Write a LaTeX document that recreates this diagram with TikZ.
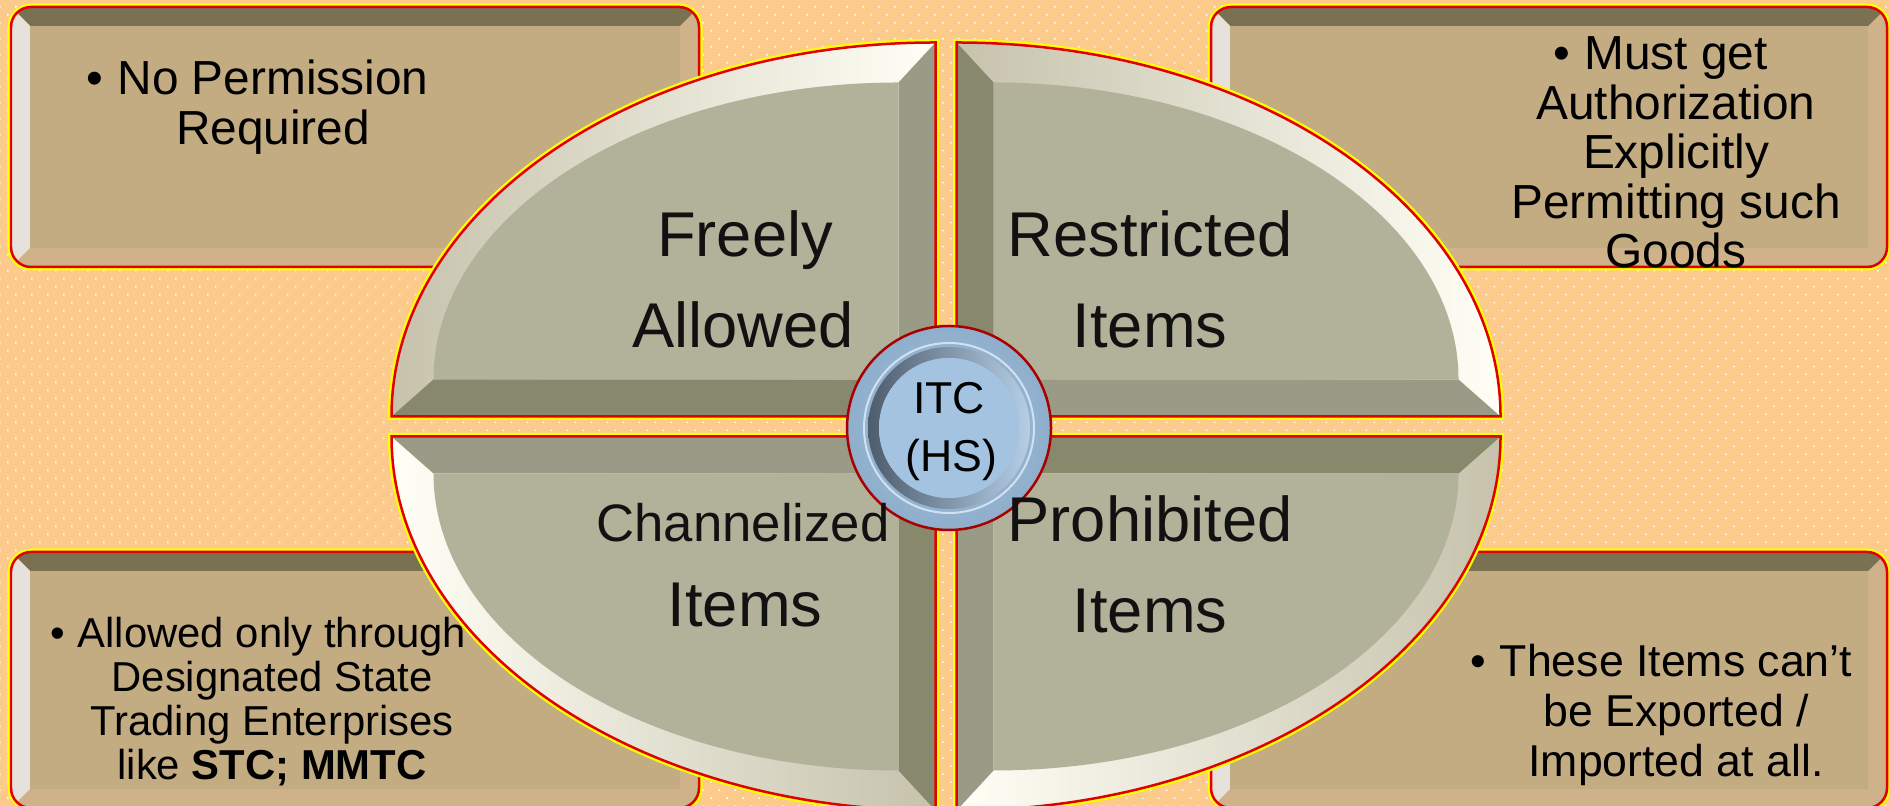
\documentclass[tikz,border=0pt]{standalone}
\usepackage{fontspec}
\setmainfont{Liberation Sans}
\usetikzlibrary{patterns.meta}

\definecolor{fondo}{HTML}{FCCA8A}
\definecolor{amarillo}{HTML}{FFFF00}
\definecolor{rojo}{HTML}{E00000}
\definecolor{cajacara}{HTML}{C4AC82}
\definecolor{cajaclara}{HTML}{CFB289}
\definecolor{cajaosc}{HTML}{7A7152}
\definecolor{cajablanca}{HTML}{E6E2DB}
\definecolor{cara}{HTML}{B2B29B}
\definecolor{bandamedia}{HTML}{9A9B86}
\definecolor{bandaosc}{HTML}{88886C}
\definecolor{arcogris}{HTML}{C6C2AC}
\definecolor{arcoblanco}{HTML}{FFFFF6}
\definecolor{azul}{HTML}{A3C3E0}
\definecolor{azulborde}{HTML}{8FAECB}
\definecolor{azulosc}{HTML}{4E5C6C}
\definecolor{tinta}{HTML}{111111}

\tikzset{
  borde/.style={amarillo, line width=0.07cm},
  filo/.style={rojo, line width=0.025cm},
  grande/.style={anchor=base, inner sep=0pt, text=tinta, font=\fontsize{18}{20}\selectfont},
  caja/.style={anchor=base, inner sep=0pt, text=black, font=\fontsize{13.6}{15}\selectfont},
}

\begin{document}
\begin{tikzpicture}
  \useasboundingbox (0,0) rectangle (18.89,8.06);
  \clip (0,0) rectangle (18.89,8.06);

  % Fondo punteado
  \fill[fondo] (0,0) rectangle (18.89,8.06);
  \fill[pattern={Dots[angle=45, distance=0.113cm, radius=0.3pt]}, pattern color=white] (0,0) rectangle (18.89,8.06);

  % Cajas de las esquinas
  \foreach \xa/\ya/\xb/\yb in {0.11/5.39/6.99/7.99, 12.11/5.39/18.87/7.99, 0.11/-0.02/6.99/2.54, 12.11/-0.02/18.87/2.54} {
    \draw[borde, rounded corners=0.2cm] (\xa,\ya) rectangle (\xb,\yb);
    \begin{scope}
      \clip[rounded corners=0.2cm] (\xa,\ya) rectangle (\xb,\yb);
      \fill[cajaclara] (\xa,\ya) rectangle (\xb,\yb);
      \fill[cajaosc] (\xa,\yb) -- (\xb,\yb) -- (\xb-0.19,\yb-0.19) -- (\xa+0.19,\yb-0.19) -- cycle;
      \fill[cajablanca] (\xa,\ya) -- (\xa,\yb) -- (\xa+0.19,\yb-0.19) -- (\xa+0.19,\ya+0.19) -- cycle;
      \fill[cajacara] (\xa+0.19,\ya+0.19) rectangle (\xb-0.19,\yb-0.19);
    \end{scope}
    \draw[filo, rounded corners=0.2cm] (\xa,\ya) rectangle (\xb,\yb);
  }

  % Cuadrantes de la elipse
  \foreach \sx/\sy/\angi/\angf/\colv/\colh/\colizq/\colder in {-1/1/180/90/bandamedia/bandaosc/arcogris/arcoblanco, 1/1/0/90/bandaosc/bandamedia/arcogris/arcoblanco, -1/-1/180/270/bandaosc/bandamedia/arcoblanco/arcogris, 1/-1/0/-90/bandamedia/bandaosc/arcoblanco/arcogris} {
    \coordinate (C) at (9.46+\sx*0.105, 3.795+\sy*0.10);
    \path (C) ++(\sx*5.44,0) coordinate (H)
          (C) ++(0,\sy*3.74) coordinate (V)
          (C) ++(\sx*0.37,\sy*0.37) coordinate (Ci);
    \path (Ci) ++(\sx*4.65,0) coordinate (Hi)
          (Ci) ++(0,\sy*2.97) coordinate (Vi);
    \draw[borde] (C) -- (H) arc[start angle=\angi, end angle=\angf, x radius=5.44, y radius=3.74] -- cycle;
    \shade[left color=\colizq, right color=\colder] (C) -- (H) arc[start angle=\angi, end angle=\angf, x radius=5.44, y radius=3.74] -- cycle;
    \fill[\colv] (C) -- (V) -- (Vi) -- (Ci) -- cycle;
    \fill[\colh] (C) -- (H) -- (Hi) -- (Ci) -- cycle;
    \fill[cara] (Ci) -- (Hi) arc[start angle=\angi, end angle=\angf, x radius=4.65, y radius=2.97] -- cycle;
    \draw[filo] (C) -- (H) arc[start angle=\angi, end angle=\angf, x radius=5.44, y radius=3.74] -- cycle;
  }

  % Circulo central
  \coordinate (itc) at (9.49,3.78);
  \shade[inner color=azul, outer color=azulborde] (itc) circle (1.02);
  \draw[rojo!75!black, line width=0.025cm] (itc) circle (1.02);
  \draw[white!50!azul, line width=0.02cm] (itc) circle (0.85);
  \shade[even odd rule, left color=azulosc, right color=azul!80!white] (itc) circle (0.81) (itc) circle (0.70);
  \fill[azul] (itc) circle (0.70);
  \node[anchor=base, inner sep=0pt, font=\fontsize{12.7}{15}\selectfont] (itc1) at (9.49,3.92) {ITC};
  \node[anchor=base, inner sep=0pt, font=\fontsize{12.7}{15}\selectfont] (itc2) at (9.51,3.34) {(HS)};

  % Nombres de los cuadrantes
  \node[grande] (freely) at (7.45,5.49) {Freely};
  \node[grande] (allowed) at (7.43,4.58) {Allowed};
  \node[grande] (restricted) at (11.50,5.49) {Restricted};
  \node[grande] (items1) at (11.50,4.58) {Items};
  \node[grande, font=\fontsize{15}{18}\selectfont] (channelized) at (7.43,2.64) {Channelized};
  \node[grande] (items2) at (7.45,1.79) {Items};
  \node[grande] (prohibited) at (11.50,2.64) {Prohibited};
  \node[grande] (items3) at (11.50,1.73) {Items};

  % Textos de las cajas
  \foreach \linea [count=\i] in {{\llap{•\hspace{0.3em}}No Permission}, Required}
    \node[caja] (libre\i) at (2.73,{7.11-0.50*(\i-1)}) {\linea};

  \foreach \linea [count=\i] in {{\llap{•\hspace{0.3em}}Must get}, Authorization, Explicitly, Permitting such, Goods}
    \node[caja] (permiso\i) at (16.76,{7.36-0.495*(\i-1)}) {\linea};

  \foreach \linea [count=\i] in {{\llap{•\hspace{0.3em}}Allowed only through}, Designated State, Trading Enterprises, {like \textbf{STC; MMTC}}}
    \node[caja, font=\fontsize{11.9}{14}\selectfont] (canal\i) at (2.72,{1.58-0.44*(\i-1)}) {\linea};

  \foreach \linea [count=\i] in {{\llap{•\hspace{0.3em}}These Items can’t}, {be Exported /}, Imported at all.}
    \node[caja, font=\fontsize{12.7}{15}\selectfont] (prohib\i) at (16.76,{1.29-0.50*(\i-1)}) {\linea};

\end{tikzpicture}
\end{document}
